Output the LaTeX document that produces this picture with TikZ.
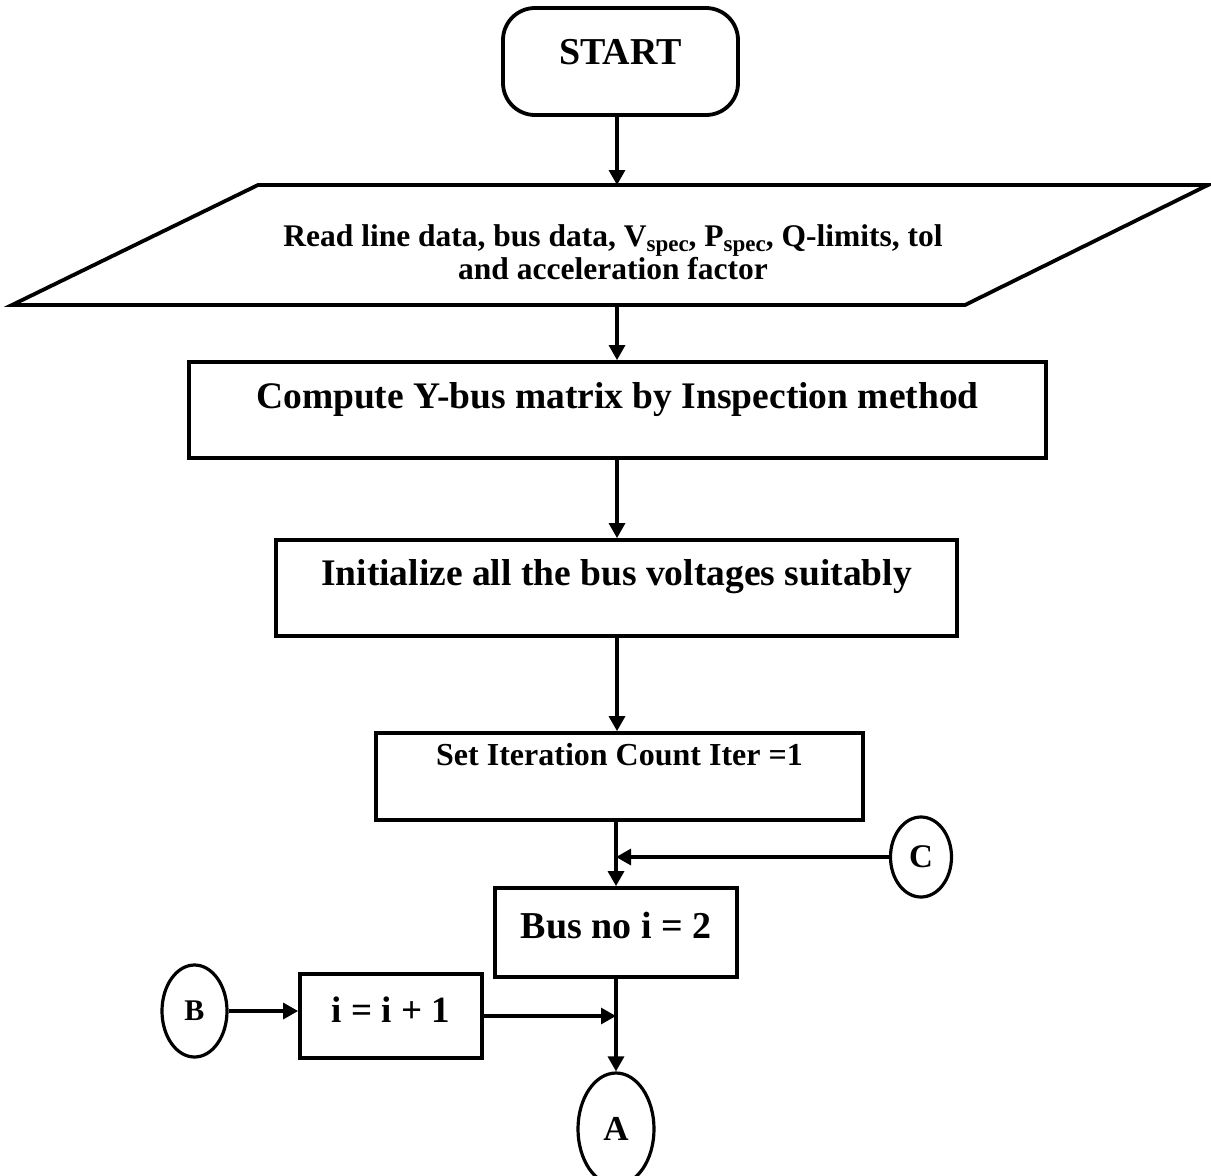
\documentclass[tikz,border=0pt]{standalone}
\usepackage{fontspec}
\setmainfont{Liberation Serif}
\usetikzlibrary{arrows.meta,shapes.geometric}
\newcommand{\subsc}[1]{{\fontsize{23}{23}\selectfont\raisebox{-5pt}{#1}}}
\begin{document}
\begin{tikzpicture}[x=1pt,y=-1pt,
  box/.style={draw, line width=3.8pt, inner sep=0pt, font=\bfseries},
  up/.style={text height=0pt, text depth=#1},
  down/.style={text height=#1, text depth=0pt},
  arr/.style={line width=3.2pt, -{Triangle[length=15pt,width=16pt]}},
  conn/.style={draw, ellipse, line width=3.2pt, inner sep=0pt},
  fbig/.style={font=\bfseries\fontsize{37.5}{40}\selectfont},
]
\useasboundingbox (0,0) rectangle (1211,1176);

% START
\node[box, rounded corners=32pt, minimum width=235pt, minimum height=107pt,
      down=5pt, font=\bfseries\fontsize{38}{40}\selectfont] (start) at (620.5,61.5) {START};

% input parallelogram
\draw[line width=3.8pt] (258,185) -- (1208,185) -- (965,305) -- (12,305) -- cycle;
\coordinate (ptop) at (617,185);
\coordinate (pbot) at (617,305);
\node[align=center, inner sep=0pt, font=\bfseries\fontsize{31.5}{33.5}\selectfont] (io) at (613,252)
  {Read line data, bus data, V\subsc{spec}, P\subsc{spec}, Q-limits, tol\\and acceleration factor};

% Compute Y-bus
\node[box, fbig, minimum width=857pt, minimum height=96pt, up=4pt] (ybus) at (617.5,410)
  {Compute Y-bus matrix by Inspection method};

% Initialize
\node[box, fbig, minimum width=681pt, minimum height=96pt, up=6pt] (init) at (616.5,588)
  {Initialize all the bus voltages suitably};

% Set iteration
\node[box, minimum width=487pt, minimum height=87pt, up=23pt,
      font=\bfseries\fontsize{32}{34}\selectfont] (iter) at (619.5,776.5)
  {Set Iteration Count Iter =1};

% Bus no
\node[box, minimum width=242pt, minimum height=89pt, down=11pt,
      font=\bfseries\fontsize{38}{40}\selectfont] (bus) at (616,932.5)
  {Bus no i = 2};

% i = i + 1
\node[box, minimum width=182pt, minimum height=84pt, down=12pt,
      font=\bfseries\fontsize{37}{40}\selectfont] (incr) at (391,1016)
  {i = i + 1};

% connectors (circles)
\node[conn, minimum width=61pt, minimum height=80pt, font=\bfseries\fontsize{33}{33}\selectfont] (C) at (921,857) {C};
\node[conn, minimum width=65pt, minimum height=92pt, font=\bfseries\fontsize{30}{30}\selectfont] (B) at (194.5,1011) {B};
\node[conn, minimum width=76pt, minimum height=112pt, font=\bfseries\fontsize{35}{35}\selectfont] (A) at (616,1129) {A};

% arrows
\draw[arr] (start.south -| ptop) -- (ptop);
\draw[arr] (pbot) -- (pbot |- ybus.north);
\draw[arr] (ybus.south -| pbot) -- (init.north -| pbot);
\draw[arr] (init.south -| pbot) -- (iter.north -| pbot);
\draw[arr] (iter.south -| bus.north) -- (bus.north);
\draw[arr] (C.west) -- (C.west -| bus.north);
\draw[arr] (bus.south) -- (A.north);
\draw[arr] (B.east) -- (B.east -| incr.west);
\draw[arr] (incr.east) -- (incr.east -| A.north);
\end{tikzpicture}
\end{document}
